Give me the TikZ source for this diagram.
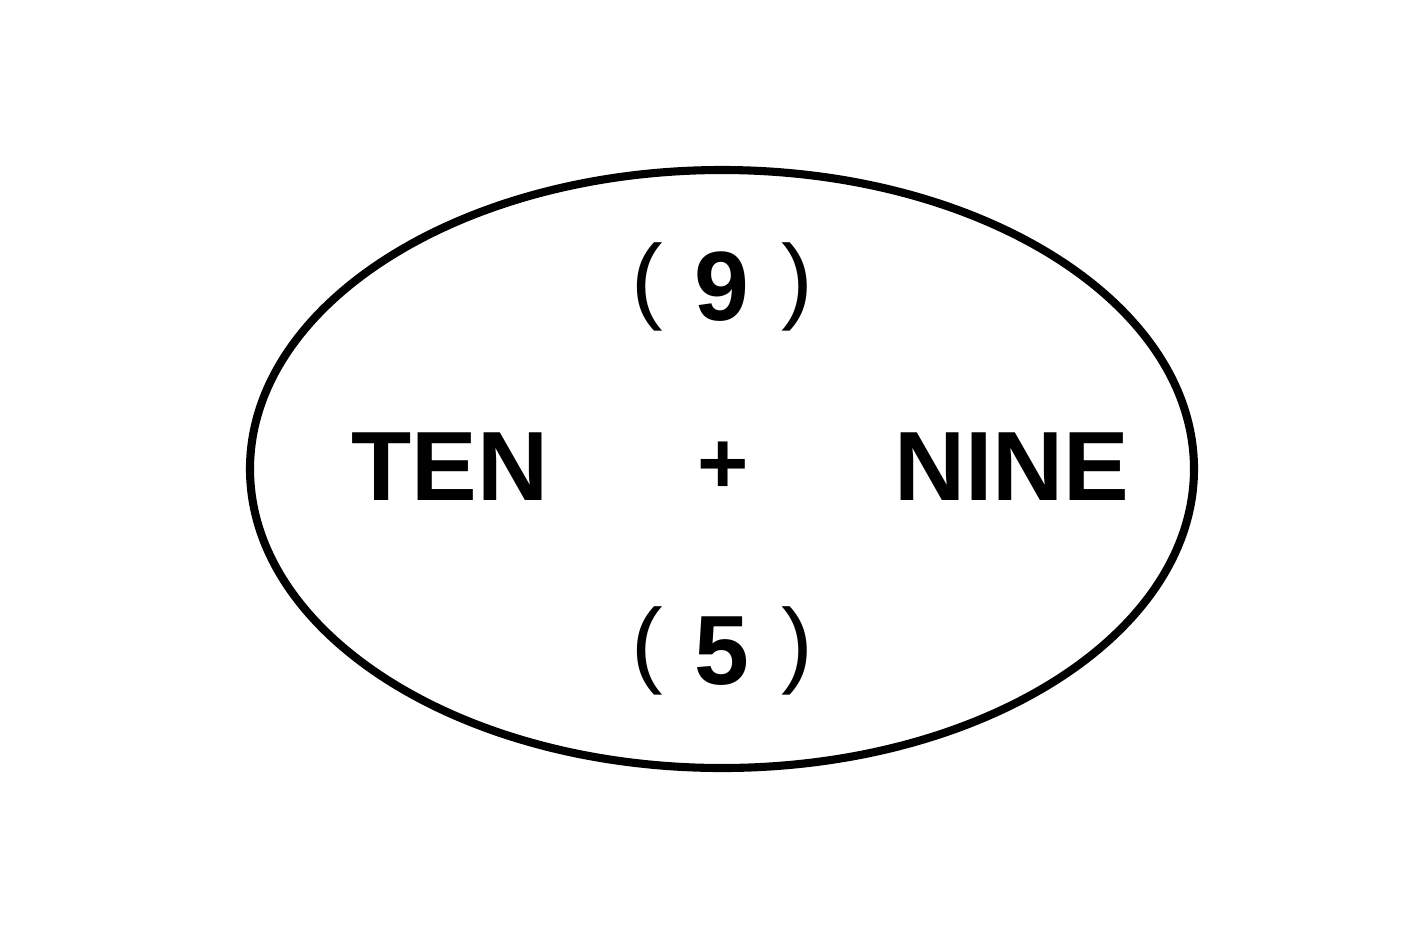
\documentclass[tikz,border=0pt]{standalone}
\usepackage{fontspec}
\setmainfont{Liberation Sans}
\usetikzlibrary{shapes.geometric}
\newcommand{\lpar}{{\mdseries\fontsize{27}{30}\selectfont\raisebox{2.5pt}{(}}}
\newcommand{\rpar}{{\mdseries\fontsize{27}{30}\selectfont\raisebox{2.5pt}{)}}}
\begin{document}
\begin{tikzpicture}[x=0.01cm,y=-0.01cm,
  lbl/.style={font=\fontsize{28}{30}\selectfont\bfseries, inner sep=0pt, anchor=base}]
\useasboundingbox[fill=white] (0,0) rectangle (1418,945);
\node[draw, line width=2.3pt, ellipse, minimum width=944*0.01cm, minimum height=598*0.01cm, inner sep=0pt] (oval) at (722,469) {};
\node[lbl] (top) at (722,320) {\lpar\hspace{9pt}9\hspace{9pt}\rpar};
\node[lbl] (ten) at (450,500) {TEN};
\node[lbl, font=\fontsize{25}{30}\selectfont\bfseries] (plus) at (723,493) {+};
\node[lbl] (nine) at (1012,500) {NINE};
\node[lbl] (bot) at (722,684) {\lpar\hspace{9pt}5\hspace{9pt}\rpar};
\end{tikzpicture}
\end{document}
